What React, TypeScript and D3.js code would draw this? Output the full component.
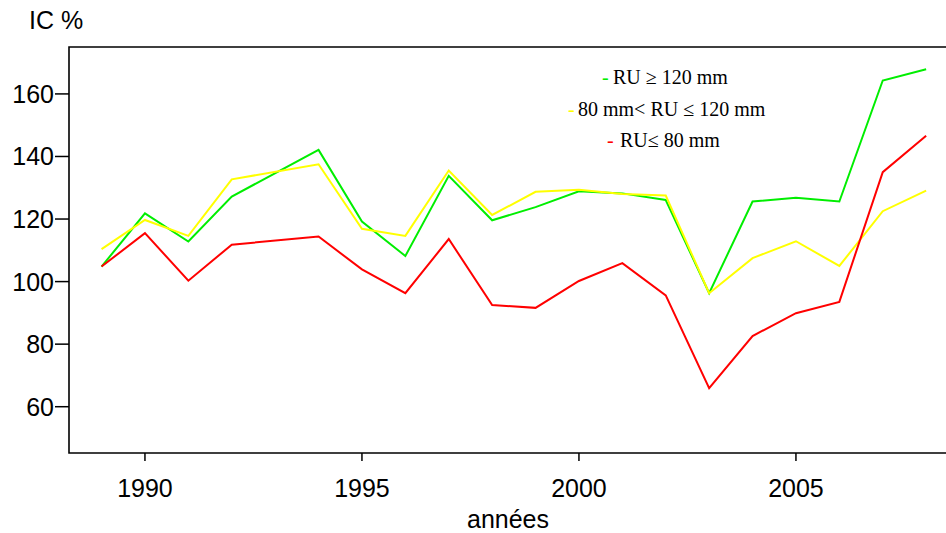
import React from "react";
import * as d3 from "d3";

const years: number[] = [1989,1990,1991,1992,1993,1994,1995,1996,1997,1998,1999,2000,2001,2002,2003,2004,2005,2006,2007,2008];
const greenVals: (number|null)[] = [104.8,121.8,112.8,127.2,null,142.1,119.2,108.2,133.8,119.6,123.8,128.9,128.2,126.1,96.3,125.6,126.8,125.6,164.3,167.9];
const yellowVals: (number|null)[] = [110.4,119.7,114.6,132.7,null,137.5,116.9,114.6,135.5,121.3,128.7,129.4,128.0,127.5,96.3,107.5,112.9,105.0,122.5,129.1];
const redVals: (number|null)[] = [104.8,115.5,100.3,111.8,null,114.4,103.9,96.3,113.6,92.5,91.6,100.2,105.9,95.6,65.9,82.6,89.9,93.5,135.0,146.6];
const yTicks: number[] = [60,80,100,120,140,160];
const xTicks: number[] = [1990,1995,2000,2005];
const legendLabels: string[] = ["RU \u2265 120 mm", "80 mm< RU \u2264 120 mm", "RU\u2264 80 mm"];

const W = 946, H = 533;
const L = 69, T = 47, B = 453, R = 960;

export default function App() {
  const x = d3.scaleLinear().domain([1988.25, 2008.78]).range([L, R]);
  const y = d3.scaleLinear().domain([45.2, 175.0]).range([B, T]);
  const mk = (vals: (number|null)[]) => {
    const pts = years.map((yr, i) => [yr, vals[i]] as [number, number|null]).filter(p => p[1] !== null) as [number, number][];
    return d3.line<[number, number]>().x(d => x(d[0])).y(d => y(d[1]))(pts) || "";
  };
  const series = [
    { vals: greenVals, color: "#00ee00" },
    { vals: yellowVals, color: "#ffff00" },
    { vals: redVals, color: "#ff0000" },
  ];
  const legendPos = [
    { dx: 602, tx: 613, y: 84 },
    { dx: 568, tx: 578, y: 116 },
    { dx: 607, tx: 620, y: 147 },
  ];
  const sans = "'Liberation Sans', Arial, Helvetica, sans-serif";
  const serif = "'Liberation Serif', 'Times New Roman', serif";
  return (
    <svg width={W} height={H} style={{ position: "absolute", left: 0, top: 0, background: "#fff" }}>
      <rect x={0} y={0} width={W} height={H} fill="#fff" />
      {series.map((s, i) => (
        <path key={i} d={mk(s.vals)} fill="none" stroke={s.color} strokeWidth={2} strokeLinejoin="miter" />
      ))}
      <path d={`M${R},${T}H${L}V${B}H${R}`} fill="none" stroke="#000" strokeWidth={1.6} />
      {yTicks.map(t => (
        <g key={t}>
          <line x1={L - 14} x2={L} y1={y(t)} y2={y(t)} stroke="#000" strokeWidth={1.5} />
          <text x={L - 15} y={y(t)} dy="0.36em" textAnchor="end" fontFamily={sans} fontSize={25} fill="#000">{t}</text>
        </g>
      ))}
      {xTicks.map(t => (
        <g key={t}>
          <line x1={x(t)} x2={x(t)} y1={B} y2={B + 8} stroke="#000" strokeWidth={1.5} />
          <text x={x(t)} y={497} textAnchor="middle" fontFamily={sans} fontSize={25} fill="#000">{t}</text>
        </g>
      ))}
      <text x={508} y={528} textAnchor="middle" fontFamily={sans} fontSize={25} fill="#000">années</text>
      <text x={29} y={29} fontFamily={sans} fontSize={25} fill="#000">IC %</text>
      {legendLabels.map((lab, i) => (
        <g key={i}>
          <text x={legendPos[i].dx} y={legendPos[i].y} fontFamily={serif} fontSize={20} fill={series[i].color}>-</text>
          <text x={legendPos[i].tx} y={legendPos[i].y} fontFamily={serif} fontSize={20} fill="#000">{lab}</text>
        </g>
      ))}
    </svg>
  );
}
